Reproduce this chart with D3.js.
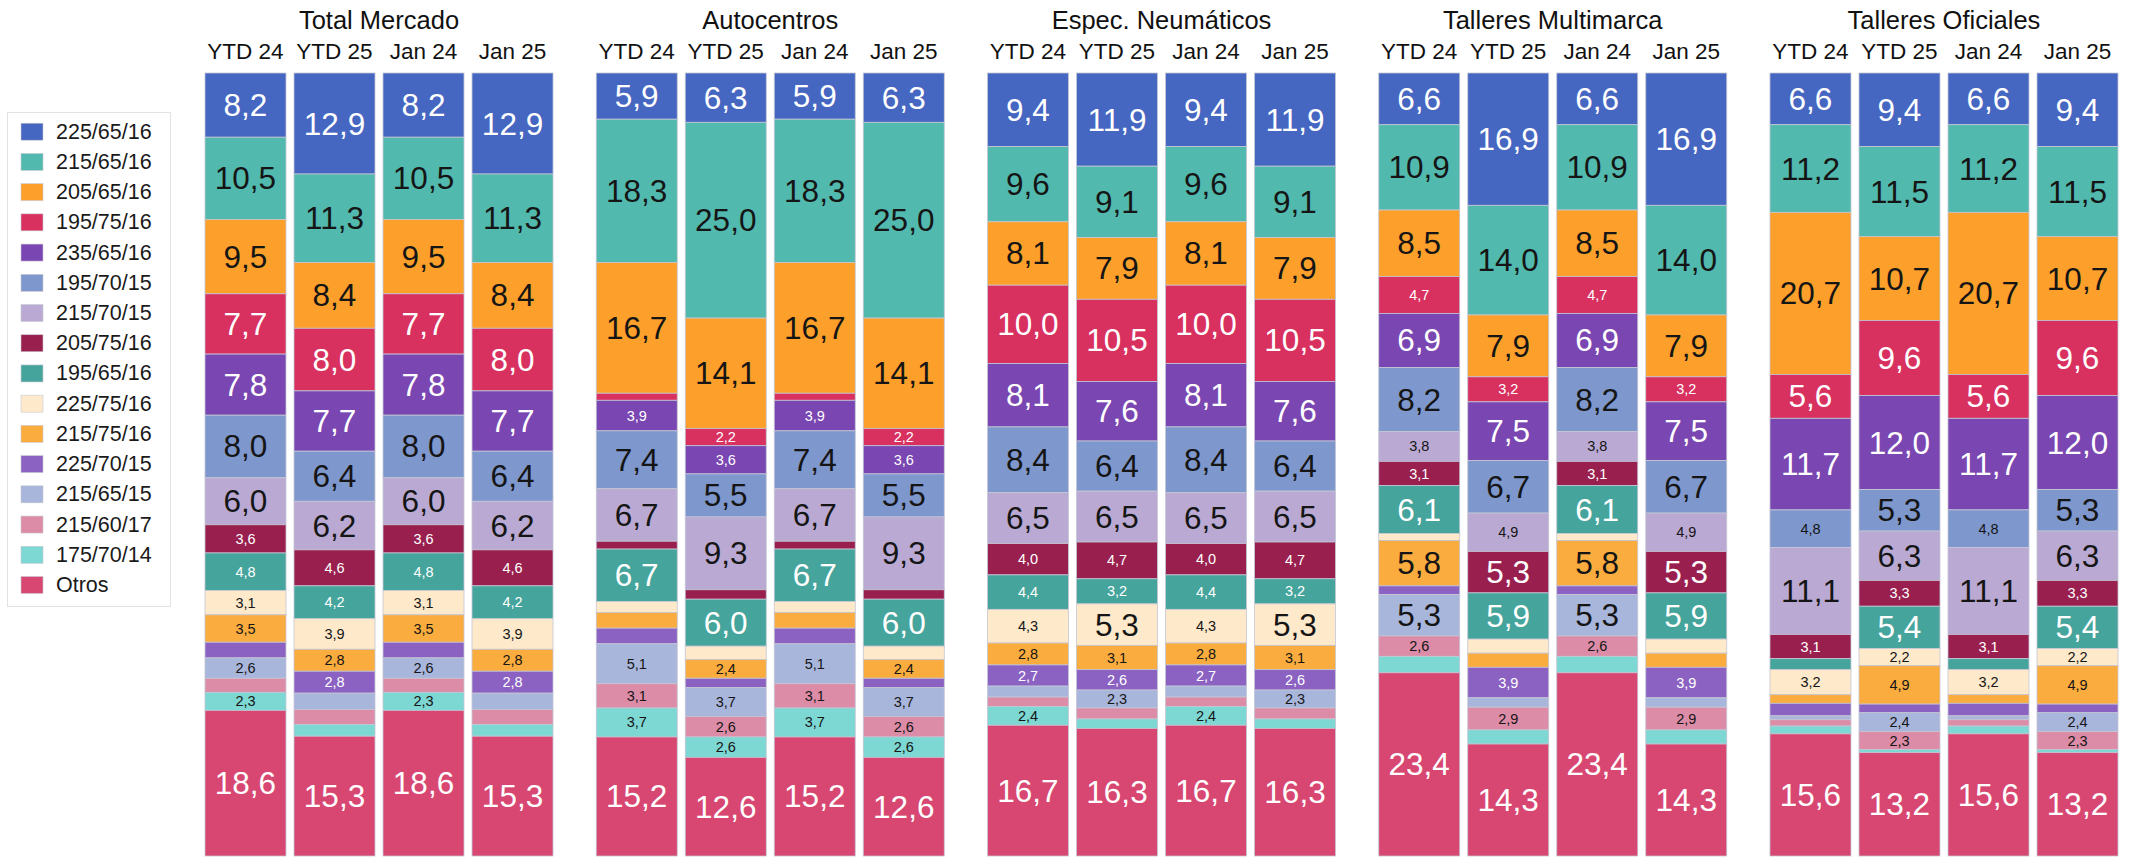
<!DOCTYPE html>
<html>
<head>
<meta charset="utf-8">
<script src="https://cdn.jsdelivr.net/npm/d3@7"></script>
<style>
  body { margin: 0; background: #fff; }
  svg { display: block; }
  text { font-family: "Liberation Sans", Arial, Helvetica, sans-serif; }
</style>
</head>
<body>
<svg id="chart" width="2139" height="859"></svg>
<script>
// Tyre sizes, stacked top to bottom in every bar
const sizes = ["225/65/16", "215/65/16", "205/65/16", "195/75/16", "235/65/16", "195/70/15",
  "215/70/15", "205/75/16", "195/65/16", "225/75/16", "215/75/16", "225/70/15",
  "215/65/15", "215/60/17", "175/70/14", "Otros"];

const sizeColors = ["#4566c1", "#52b9ae", "#fca02b", "#d8305f", "#7a46b1", "#7e97cc",
  "#baaad3", "#991f4f", "#45a49c", "#fee9cb", "#fbac3e", "#8b62c2",
  "#a9b6dc", "#dc8ca7", "#7dd8d3", "#d74772"];

// sizes whose value labels are printed in white
const whiteLabelSizes = ["225/65/16", "195/75/16", "235/65/16", "205/75/16", "195/65/16", "225/70/15", "Otros"];

const channels = ["Total Mercado", "Autocentros", "Espec. Neumáticos", "Talleres Multimarca", "Talleres Oficiales"];
const periods = ["YTD 24", "YTD 25", "Jan 24", "Jan 25"];

// Share (%) per size, in the order of `sizes`
const totalMercadoYTD24 = [8.2, 10.5, 9.5, 7.7, 7.8, 8.0, 6.0, 3.6, 4.8, 3.1, 3.5, 2.0, 2.6, 1.8, 2.3, 18.6];
const totalMercadoYTD25 = [12.9, 11.3, 8.4, 8.0, 7.7, 6.4, 6.2, 4.6, 4.2, 3.9, 2.8, 2.8, 2.1, 1.9, 1.5, 15.3];
const totalMercadoJan24 = [8.2, 10.5, 9.5, 7.7, 7.8, 8.0, 6.0, 3.6, 4.8, 3.1, 3.5, 2.0, 2.6, 1.8, 2.3, 18.6];
const totalMercadoJan25 = [12.9, 11.3, 8.4, 8.0, 7.7, 6.4, 6.2, 4.6, 4.2, 3.9, 2.8, 2.8, 2.1, 1.9, 1.5, 15.3];

const autocentrosYTD24 = [5.9, 18.3, 16.7, 0.9, 3.9, 7.4, 6.7, 1.0, 6.7, 1.4, 2.0, 2.0, 5.1, 3.1, 3.7, 15.2];
const autocentrosYTD25 = [6.3, 25.0, 14.1, 2.2, 3.6, 5.5, 9.3, 1.2, 6.0, 1.7, 2.4, 1.2, 3.7, 2.6, 2.6, 12.6];
const autocentrosJan24 = [5.9, 18.3, 16.7, 0.9, 3.9, 7.4, 6.7, 1.0, 6.7, 1.4, 2.0, 2.0, 5.1, 3.1, 3.7, 15.2];
const autocentrosJan25 = [6.3, 25.0, 14.1, 2.2, 3.6, 5.5, 9.3, 1.2, 6.0, 1.7, 2.4, 1.2, 3.7, 2.6, 2.6, 12.6];

const especYTD24 = [9.4, 9.6, 8.1, 10.0, 8.1, 8.4, 6.5, 4.0, 4.4, 4.3, 2.8, 2.7, 1.4, 1.2, 2.4, 16.7];
const especYTD25 = [11.9, 9.1, 7.9, 10.5, 7.6, 6.4, 6.5, 4.7, 3.2, 5.3, 3.1, 2.6, 2.3, 1.4, 1.2, 16.3];
const especJan24 = [9.4, 9.6, 8.1, 10.0, 8.1, 8.4, 6.5, 4.0, 4.4, 4.3, 2.8, 2.7, 1.4, 1.2, 2.4, 16.7];
const especJan25 = [11.9, 9.1, 7.9, 10.5, 7.6, 6.4, 6.5, 4.7, 3.2, 5.3, 3.1, 2.6, 2.3, 1.4, 1.2, 16.3];

const multimarcaYTD24 = [6.6, 10.9, 8.5, 4.7, 6.9, 8.2, 3.8, 3.1, 6.1, 0.9, 5.8, 1.1, 5.3, 2.6, 2.1, 23.4];
const multimarcaYTD25 = [16.9, 14.0, 7.9, 3.2, 7.5, 6.7, 4.9, 5.3, 5.9, 1.8, 1.8, 3.9, 1.2, 2.9, 1.8, 14.3];
const multimarcaJan24 = [6.6, 10.9, 8.5, 4.7, 6.9, 8.2, 3.8, 3.1, 6.1, 0.9, 5.8, 1.1, 5.3, 2.6, 2.1, 23.4];
const multimarcaJan25 = [16.9, 14.0, 7.9, 3.2, 7.5, 6.7, 4.9, 5.3, 5.9, 1.8, 1.8, 3.9, 1.2, 2.9, 1.8, 14.3];

const oficialesYTD24 = [6.6, 11.2, 20.7, 5.6, 11.7, 4.8, 11.1, 3.1, 1.4, 3.2, 1.1, 1.6, 0.5, 0.8, 1.0, 15.6];
const oficialesYTD25 = [9.4, 11.5, 10.7, 9.6, 12.0, 5.3, 6.3, 3.3, 5.4, 2.2, 4.9, 1.1, 2.4, 2.3, 0.4, 13.2];
const oficialesJan24 = [6.6, 11.2, 20.7, 5.6, 11.7, 4.8, 11.1, 3.1, 1.4, 3.2, 1.1, 1.6, 0.5, 0.8, 1.0, 15.6];
const oficialesJan25 = [9.4, 11.5, 10.7, 9.6, 12.0, 5.3, 6.3, 3.3, 5.4, 2.2, 4.9, 1.1, 2.4, 2.3, 0.4, 13.2];

const channelValues = [
  [totalMercadoYTD24, totalMercadoYTD25, totalMercadoJan24, totalMercadoJan25],
  [autocentrosYTD24, autocentrosYTD25, autocentrosJan24, autocentrosJan25],
  [especYTD24, especYTD25, especJan24, especJan25],
  [multimarcaYTD24, multimarcaYTD25, multimarcaJan24, multimarcaJan25],
  [oficialesYTD24, oficialesYTD25, oficialesJan24, oficialesJan25]
];

const svg = d3.select("#chart");
const fmt = v => d3.format(".1f")(v).replace(".", ",");

const color = d3.scaleOrdinal(sizes, sizeColors);
const panelX = d3.scaleBand(channels, [205, 2118]).paddingInner(0.1105);
const barX = d3.scaleBand(periods, [0, panelX.bandwidth()]).paddingInner(0.09);
const y = d3.scaleLinear([0, 100], [73, 856]);

const stack = d3.stack().keys(sizes).order(d3.stackOrderNone).offset(d3.stackOffsetNone);

channels.forEach((ch, ci) => {
  const rows = periods.map((p, pi) => {
    const row = { period: p };
    sizes.forEach((s, si) => { row[s] = channelValues[ci][pi][si]; });
    return row;
  });
  const series = stack(rows);

  const g = svg.append("g").attr("transform", `translate(${panelX(ch)},0)`);

  g.append("text")
    .attr("x", panelX.bandwidth() / 2)
    .attr("y", 29)
    .attr("text-anchor", "middle")
    .attr("font-size", 25.5)
    .attr("fill", "#111")
    .text(ch);

  g.selectAll("text.period")
    .data(periods)
    .join("text")
    .attr("class", "period")
    .attr("x", d => barX(d) + barX.bandwidth() / 2)
    .attr("y", 59)
    .attr("text-anchor", "middle")
    .attr("font-size", 22.5)
    .attr("fill", "#111")
    .text(d => d);

  const layer = g.selectAll("g.layer")
    .data(series)
    .join("g")
    .attr("class", "layer")
    .attr("fill", d => color(d.key));

  layer.selectAll("rect")
    .data(d => d.map(seg => ({ key: d.key, seg })))
    .join("rect")
    .attr("x", d => barX(d.seg.data.period))
    .attr("y", d => y(d.seg[0]))
    .attr("width", barX.bandwidth())
    .attr("height", d => y(d.seg[1]) - y(d.seg[0]))
    .attr("stroke", "#c4c6d4")
    .attr("stroke-width", 0.8);

  // value labels: large for big shares, small for mid shares, none for slivers
  series.forEach(s => {
    s.forEach(seg => {
      const value = seg.data[s.key];
      if (value < 2.15) return;
      const big = value >= 5.2;
      g.append("text")
        .attr("x", barX(seg.data.period) + barX.bandwidth() / 2)
        .attr("y", (y(seg[0]) + y(seg[1])) / 2)
        .attr("text-anchor", "middle")
        .attr("dominant-baseline", "central")
        .attr("font-size", big ? 31.5 : 14.5)
        .attr("fill", whiteLabelSizes.includes(s.key) ? "#ffffff" : "#151515")
        .text(fmt(value));
    });
  });
});

// Legend
const legend = svg.append("g");
legend.append("rect")
  .attr("x", 7.5).attr("y", 112.5)
  .attr("width", 163).attr("height", 494)
  .attr("fill", "#fff")
  .attr("stroke", "#e2e2e2");

const legendY = d3.scalePoint(sizes, [131.7, 585]);
const item = legend.selectAll("g.item")
  .data(sizes)
  .join("g")
  .attr("class", "item")
  .attr("transform", d => `translate(0,${legendY(d)})`);

item.append("rect")
  .attr("x", 21).attr("y", -8.5)
  .attr("width", 22).attr("height", 17)
  .attr("fill", d => color(d))
  .attr("stroke", "#c9c9d2")
  .attr("stroke-width", 0.6);

item.append("text")
  .attr("x", 56)
  .attr("dominant-baseline", "central")
  .attr("font-size", 21.5)
  .attr("fill", "#1a1a1a")
  .text(d => d);
</script>
</body>
</html>
